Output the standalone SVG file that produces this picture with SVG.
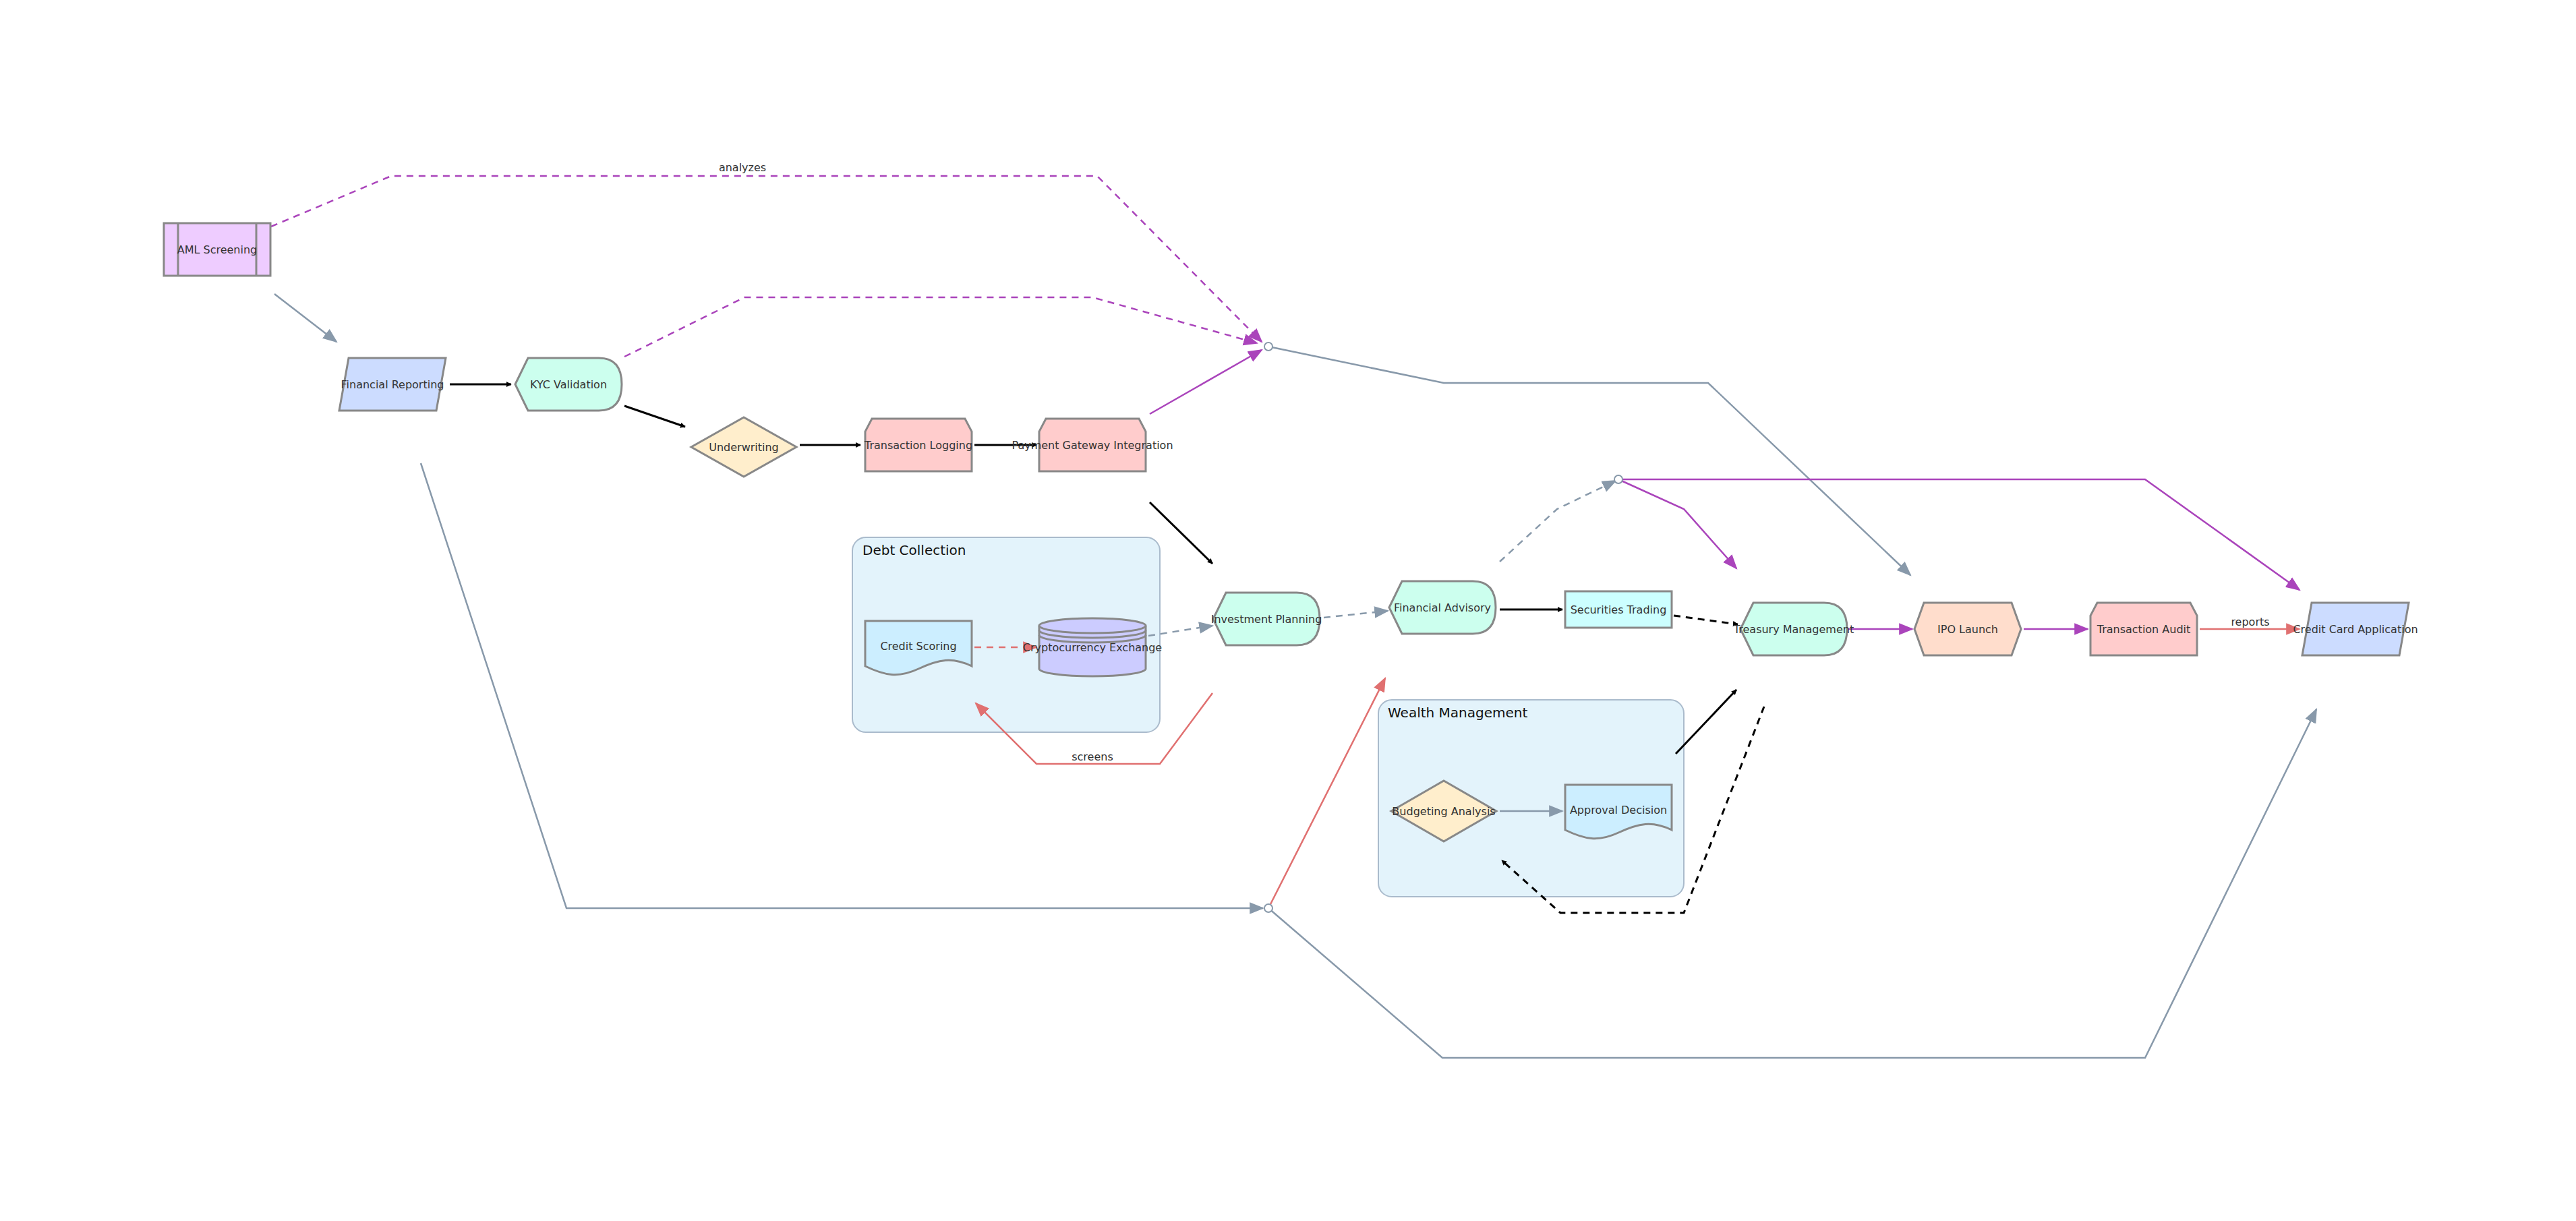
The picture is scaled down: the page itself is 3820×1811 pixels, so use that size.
<svg xmlns="http://www.w3.org/2000/svg" width="3820" height="1811" viewBox="0 0 3820 1811">
<style>
.n{stroke:#888;stroke-width:3;}
.t{font-family:"DejaVu Sans",sans-serif;font-size:16px;fill:#333;text-anchor:middle;dominant-baseline:central;}
.cl{fill:#e3f3fb;stroke:#aabbcc;stroke-width:2;}
.ct{font-family:"DejaVu Sans",sans-serif;font-size:20px;fill:#111;}
.e{fill:none;stroke-width:2.5;}
.k{stroke:#000;marker-end:url(#mk);stroke-width:3;}
.g{stroke:#8899aa;marker-end:url(#mg);}
.p{stroke:#aa44bb;marker-end:url(#mp);}
.r{stroke:#e07070;marker-end:url(#mr);}
.d{stroke-dasharray:10,8;}
.el{font-family:"DejaVu Sans",sans-serif;font-size:16px;fill:#333;text-anchor:middle;}
.j{fill:#fff;stroke:#8899aa;stroke-width:2;}
</style>
<defs>
<marker id="mk" viewBox="0 0 10 10" refX="9" refY="5" markerWidth="8" markerHeight="8" markerUnits="userSpaceOnUse" orient="auto"><path d="M0,0L10,5L0,10z" fill="#000" transform="scale(1)"/></marker>
<marker id="mg" viewBox="0 0 10 10" refX="9" refY="5" markerWidth="22" markerHeight="22" markerUnits="userSpaceOnUse" orient="auto"><path d="M0,1L10,5L0,9z" fill="#8899aa"/></marker>
<marker id="mp" viewBox="0 0 10 10" refX="9" refY="5" markerWidth="22" markerHeight="22" markerUnits="userSpaceOnUse" orient="auto"><path d="M0,1L10,5L0,9z" fill="#aa44bb"/></marker>
<marker id="mr" viewBox="0 0 10 10" refX="9" refY="5" markerWidth="22" markerHeight="22" markerUnits="userSpaceOnUse" orient="auto"><path d="M0,1L10,5L0,9z" fill="#e07070"/></marker>
</defs>
<rect width="3820" height="1811" fill="#fff"/>

<g id="cluster-debt"><rect class="cl" x="1264" y="797" width="456" height="289" rx="20"/><text class="ct" x="1279" y="823">Debt Collection</text></g>
<g id="cluster-wealth"><rect class="cl" x="2044" y="1038" width="453" height="292" rx="20"/><text class="ct" x="2058" y="1064">Wealth Management</text></g>

<g id="edges">
<path class="e p d" d="M402,336 L580,261 L1627,261 L1871,507"/>
<text class="el" x="1101" y="254">analyzes</text>
<path class="e p d" d="M926,529 L1104,441 L1620,441 L1864,509"/>
<path class="e p" d="M1705,614 L1871,519"/>
<path class="e g" d="M1881,514 L2141,568 L2533,568 L2833,853"/>
<path class="e g" d="M407,436 L499,507"/>
<path class="e k" style="marker-end:url(#mk)" d="M667,570 L758,570"/>
<path class="e k" d="M926,602 L1016,633"/>
<path class="e k" d="M1186,660 L1276,660"/>
<path class="e k" d="M1445,660 L1537,660"/>
<path class="e k" d="M1705,745 L1798,836"/>
<path class="e r d" d="M1445,960 L1537,960"/>
<path class="e g d" d="M1703,943 L1798,928"/>
<path class="e g d" d="M1963,916 L2058,906"/>
<path class="e r" d="M1798,1028 L1720,1133 L1537,1133 L1447,1043"/>
<text class="el" x="1620" y="1128">screens</text>
<path class="e k" d="M2224,904 L2317,904"/>
<path class="e k d" d="M2482,913 L2577,926"/>
<path class="e g d" d="M2224,833 L2309,755 L2396,713"/>
<path class="e p" d="M2400,711 L2497,755 L2575,843"/>
<path class="e p" d="M2400,711 L3181,711 L3410,875"/>
<path class="e p" d="M2741,933 L2836,933"/>
<path class="e p" d="M3001,933 L3096,933"/>
<path class="e r" d="M3262,933 L3410,933"/>
<text class="el" x="3337" y="928">reports</text>
<path class="e g" d="M624,687 L840,1347 L1873,1347"/>
<path class="e g" d="M1881,1347 L2139,1569 L3181,1569 L3435,1052"/>
<path class="e r" d="M1881,1347 L2054,1006"/>
<path class="e k" d="M2485,1118 L2575,1023"/>
<path class="e k d" d="M2616,1048 L2497,1354 L2314,1354 L2227,1276"/>
<path class="e g" d="M2224,1203 L2317,1203"/>
<circle class="j" cx="1881" cy="514" r="6"/>
<circle class="j" cx="2400" cy="711" r="6"/>
<circle class="j" cx="1881" cy="1347" r="6"/>
</g>

<g id="aml" transform="translate(322,370)"><rect class="n" x="-79" y="-39" width="158" height="78" fill="#eeccff"/><path class="n" d="M-58,-39V39M58,-39V39" fill="none"/><text class="t">AML Screening</text></g>
<g id="finrep" transform="translate(582,570)"><path class="n" d="M-65,-39H79L65,39H-79Z" fill="#ccdcff"/><text class="t">Financial Reporting</text></g>
<g id="kyc" transform="translate(843,570)"><path class="n" d="M-79,0L-60,-39H45Q79,-39 79,0Q79,39 45,39H-60Z" fill="#ccffee"/><text class="t">KYC Validation</text></g>
<g id="underwriting" transform="translate(1103,663)"><path class="n" d="M-78,0L0,-44L78,0L0,44Z" fill="#ffeecc"/><text class="t">Underwriting</text></g>
<g id="txlog" transform="translate(1362,660)"><path class="n" d="M-79,39V-20L-69,-39H69L79,-20V39Z" fill="#ffcccc"/><text class="t">Transaction Logging</text></g>
<g id="pgi" transform="translate(1620,660)"><path class="n" d="M-79,39V-20L-69,-39H69L79,-20V39Z" fill="#ffcccc"/><text class="t">Payment Gateway Integration</text></g>
<g id="credit" transform="translate(1362,960)"><path class="n" d="M-79,-39H79V28C50,14 30,18 0,32C-30,46 -50,42 -79,28Z" fill="#cceeff"/><text class="t" y="-2">Credit Scoring</text></g>
<g id="crypto" transform="translate(1620,960)"><path class="n" d="M-79,-32V32A79,11 0 0 0 79,32V-32A79,11 0 0 0 -79,-32Z" fill="#ccccff"/><path class="n" d="M-79,-32A79,11 0 0 0 79,-32M-79,-25A79,11 0 0 0 79,-25M-79,-18A79,11 0 0 0 79,-18" fill="none"/><text class="t">Cryptocurrency Exchange</text></g>
<g id="invest" transform="translate(1878,918)"><path class="n" d="M-79,0L-60,-39H45Q79,-39 79,0Q79,39 45,39H-60Z" fill="#ccffee"/><text class="t">Investment Planning</text></g>
<g id="advisory" transform="translate(2139,901)"><path class="n" d="M-79,0L-60,-39H45Q79,-39 79,0Q79,39 45,39H-60Z" fill="#ccffee"/><text class="t">Financial Advisory</text></g>
<g id="securities" transform="translate(2400,904)"><rect class="n" x="-79" y="-27" width="158" height="54" fill="#ccffff"/><text class="t">Securities Trading</text></g>
<g id="treasury" transform="translate(2660,933)"><path class="n" d="M-79,0L-60,-39H45Q79,-39 79,0Q79,39 45,39H-60Z" fill="#ccffee"/><text class="t">Treasury Management</text></g>
<g id="ipo" transform="translate(2918,933)"><path class="n" d="M-79,0L-65,-39H65L79,0L65,39H-65Z" fill="#ffddcc"/><text class="t">IPO Launch</text></g>
<g id="audit" transform="translate(3179,933)"><path class="n" d="M-79,39V-20L-69,-39H69L79,-20V39Z" fill="#ffcccc"/><text class="t">Transaction Audit</text></g>
<g id="ccapp" transform="translate(3493,933)"><path class="n" d="M-65,-39H79L65,39H-79Z" fill="#ccdcff"/><text class="t">Credit Card Application</text></g>
<g id="budget" transform="translate(2141,1203)"><path class="n" d="M-78,0L0,-45L78,0L0,45Z" fill="#ffeecc"/><text class="t">Budgeting Analysis</text></g>
<g id="approval" transform="translate(2400,1203)"><path class="n" d="M-79,-39H79V28C50,14 30,18 0,32C-30,46 -50,42 -79,28Z" fill="#cceeff"/><text class="t" y="-2">Approval Decision</text></g>
</svg>
